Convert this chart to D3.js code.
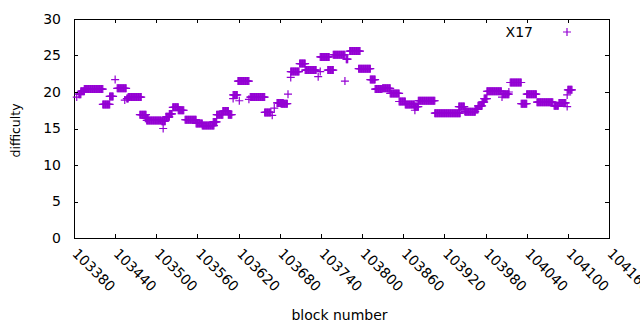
<!DOCTYPE html>
<html><head><meta charset="utf-8">
<script src="https://cdn.jsdelivr.net/npm/d3@7"></script>
<style>body{margin:0;background:#fff}svg{display:block}text{font-family:"DejaVu Sans",sans-serif;font-size:14px;fill:#000}</style>
</head><body><svg id="c" width="640" height="330"></svg>
<script>
// Runs of consecutive blocks sharing the same difficulty
const runStart = [103384,103387,103390,103395,103422,103432,103440,103443,103454,103457,103459,103476,103484,103486,103510,103508,103514,103519,103524,103532,103542,103558,103567,103583,103588,103597,103605,103612,103612,103619,103621,103635,103637,103658,103669,103672,103676,103682,103692,103696,103696,103709,103717,103736,103739,103739,103750,103758,103775,103777,103782,103795,103812,103819,103830,103841,103854,103863,103877,103876,103882,103906,103941,103950,103950,103965,103969,103975,103978,103982,104004,104005,104014,104016,104032,104040,104055,104080,104087,104099,104099,104100];
const runEnd   = [103384,103390,103395,103422,103432,103437,103440,103456,103454,103459,103478,103485,103488,103507,103510,103513,103519,103523,103532,103540,103558,103567,103584,103588,103597,103605,103610,103612,103618,103635,103621,103635,103658,103667,103669,103672,103685,103691,103692,103696,103708,103717,103733,103736,103739,103752,103758,103775,103775,103779,103797,103812,103819,103829,103841,103854,103863,103876,103877,103882,103906,103943,103949,103950,103965,103969,103975,103978,103982,104003,104004,104014,104014,104032,104040,104054,104078,104086,104097,104099,104099,104106];
const runDifficulty = [19.3,19.7,20.1,20.4,18.3,19.4,21.7,20.5,18.9,19.1,19.3,16.9,16.4,16.1,15.0,16.0,16.6,17.0,17.9,17.5,16.2,15.7,15.4,15.9,16.9,17.4,16.9,19.1,19.6,21.5,18.8,19.0,19.3,17.2,16.8,17.8,18.5,18.4,19.7,22.0,22.8,23.9,23.0,22.1,22.8,24.8,23.0,25.1,21.5,24.5,25.6,23.2,21.7,20.4,20.5,19.8,18.7,18.3,17.5,18.0,18.8,17.1,18.0,17.4,17.3,17.6,18.1,18.6,19.1,20.1,19.3,19.7,20.0,21.3,18.4,19.7,18.6,18.1,18.5,18.0,19.6,20.3];
const xTicks = [103380,103440,103500,103560,103620,103680,103740,103800,103860,103920,103980,104040,104100,104160];
const yTicks = [0,5,10,15,20,25,30];
const seriesName = "X17";

const points = [];
runStart.forEach((s,i)=>{ for(let b=s;b<=runEnd[i];b++) points.push({block:b, difficulty:runDifficulty[i]}); });

const svg = d3.select("#c");
const L=74,R=609,T=19,B=238;
const x = d3.scaleLinear().domain([103380,104160]).range([L,R]);
const y = d3.scaleLinear().domain([0,30]).range([B,T]);
const color="#9400d3";
const tk=4;

// axes ticks (inward, mirrored)
const g = svg.append("g").attr("stroke","#000").attr("stroke-width",1).attr("shape-rendering","crispEdges");
xTicks.forEach(v=>{ const px=Math.round(x(v))+0.5;
  g.append("line").attr("x1",px).attr("x2",px).attr("y1",B).attr("y2",B-tk);
  g.append("line").attr("x1",px).attr("x2",px).attr("y1",T).attr("y2",T+tk); });
yTicks.forEach(v=>{ const py=Math.round(y(v))+0.5;
  g.append("line").attr("x1",L).attr("x2",L+tk).attr("y1",py).attr("y2",py);
  g.append("line").attr("x1",R).attr("x2",R-tk).attr("y1",py).attr("y2",py); });
g.append("rect").attr("x",L+0.5).attr("y",T+0.5).attr("width",R-L).attr("height",B-T).attr("fill","none");

// tick labels
yTicks.forEach(v=>svg.append("text").attr("x",L-13).attr("y",y(v)).attr("dy","0.35em").attr("text-anchor","end").text(v));
xTicks.forEach(v=>svg.append("text").attr("transform",`translate(${x(v)+1},${B+13}) rotate(45)`).attr("dy","0.35em").attr("text-anchor","start").text(v));

// axis labels
svg.append("text").attr("transform",`translate(16,${(T+B)/2+2}) rotate(-90)`).attr("text-anchor","middle").attr("dy","0.35em").style("font-size","12.5px").text("difficulty");
svg.append("text").attr("x",(L+R)/2-2).attr("y",320).attr("text-anchor","middle").text("block number");

// points
const plus = (cx,cy)=>`M${cx-4},${cy}H${cx+4}M${cx},${cy-4}V${cy+4}`;
svg.append("g").selectAll("path").data(points).join("path")
  .attr("d",d=>plus(x(d.block),y(d.difficulty))).attr("stroke",color).attr("stroke-width",1.2).attr("fill","none");

// legend
svg.append("text").attr("x",533).attr("y",32).attr("dy","0.35em").attr("text-anchor","end").text(seriesName);
svg.append("path").attr("d",plus(567,32)).attr("stroke",color).attr("stroke-width",1.2);
</script></body></html>
